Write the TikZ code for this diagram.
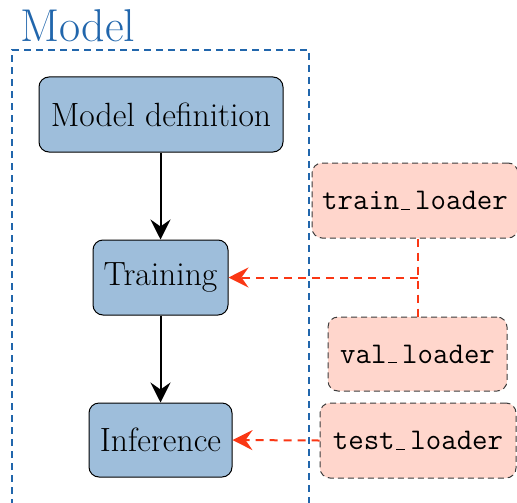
\documentclass[tikz,border=0pt]{standalone}
\usepackage{fontspec}
\usetikzlibrary{arrows.meta}
\definecolor{frameblue}{RGB}{33,102,172}
\definecolor{stepfill}{RGB}{158,190,219}
\definecolor{datafill}{RGB}{255,214,204}
\definecolor{flowred}{RGB}{250,55,20}
\definecolor{dataedge}{RGB}{60,60,60}
% low rule in place of the underscore glyph
\newcommand\lowbar{\leavevmode\kern.06em\vbox{\hrule width .3em height .5pt}\kern.165em}
\tikzset{
  stage/.style={draw=black, line width=0.5pt, fill=stepfill, rounded corners=5pt,
    font=\fontsize{16.8}{20}\selectfont, inner sep=0pt},
  loader/.style={draw=dataedge, dash pattern=on 3pt off 2pt, line width=0.5pt,
    fill=datafill, rounded corners=5pt, font=\fontsize{15}{18}\ttfamily, inner sep=0pt},
  flow/.style={draw=black, line width=1pt, -{Stealth[length=10pt,width=10pt,inset=3.5pt]}},
  feed/.style={draw=flowred, line width=1pt, dash pattern=on 4pt off 3pt},
  feedarrow/.style={feed, -{Stealth[length=10pt,width=10pt,inset=3.5pt]}},
}
\begin{document}
\begin{tikzpicture}[x=0.5pt, y=-0.5pt]
\useasboundingbox (0,0) rectangle (517,502);
\begin{scope}
\clip (0,0) rectangle (517,502);
% enclosing frame of the model part
\draw[frameblue, line width=1pt, dash pattern=on 3.5pt off 2.5pt] (12,530) -- (12,50) -- (309,50) -- (309,530);
\node[anchor=base west, text=frameblue, font=\fontsize{23}{26}\selectfont, inner sep=0pt] (title) at (20,42) {Model};

% model stages
\node[stage, minimum width=122pt, minimum height=37.5pt] (def) at (161,114.5) {Model definition};
\node[stage, minimum width=67.5pt, minimum height=37.5pt] (train) at (160.5,277.5) {Training};
\node[stage, minimum width=71.5pt, minimum height=37pt] (infer) at (160.5,440) {Inference};

% data loaders
\node[loader, minimum width=103pt, minimum height=37.5pt] (tl) at (415,200.5) {train\lowbar loader};
\node[loader, minimum width=89.5pt, minimum height=37pt] (vl) at (417.5,354) {val\lowbar loader};
\node[loader, minimum width=98pt, minimum height=37.5pt] (sl) at (418,440.5) {test\lowbar loader};

% connectors
\draw[flow] (def.south -| train) -- (train.north);
\draw[flow] (train.south) -- (infer.north);
\coordinate (join) at (418,277.5);
\draw[feed] (tl.south -| join) -- (vl.north -| join);
\draw[feedarrow] (join) -- (train.east);
\draw[feedarrow] (sl.west) -- (infer.east);
\end{scope}
\end{tikzpicture}
\end{document}
